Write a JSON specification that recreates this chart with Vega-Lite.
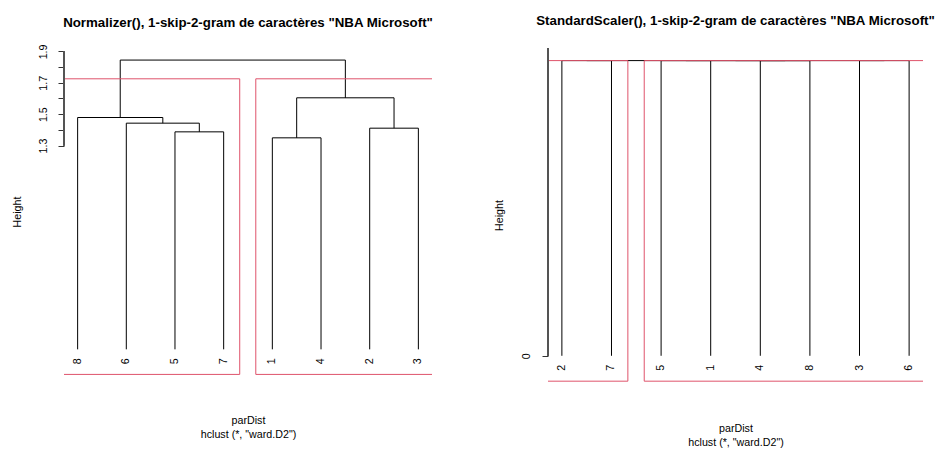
{
  "$schema": "https://vega.github.io/schema/vega-lite/v6.json",
  "background": "white",
  "padding": {"left": 11, "top": 14, "right": 0, "bottom": 0},
  "bounds": "flush",
  "spacing": 116,
  "config": {
    "view": {"stroke": null},
    "font": "Liberation Sans",
    "axis": {"grid": false, "labelFont": "Liberation Sans", "titleFont": "Liberation Sans", "labelColor": "black", "titleColor": "black", "tickColor": "#333", "titleFontWeight": "normal"}
  },
  "datasets": {
    "leftMerges": [
      {"merge": "A", "xl": 3, "xr": 4, "hl": 0, "hr": 0, "h": 1.3872},
      {"merge": "B", "xl": 2, "xr": 3.5, "hl": 0, "hr": 1.3872, "h": 1.4426},
      {"merge": "C", "xl": 1, "xr": 2.75, "hl": 0, "hr": 1.4426, "h": 1.4787},
      {"merge": "D", "xl": 5, "xr": 6, "hl": 0, "hr": 0, "h": 1.349},
      {"merge": "E", "xl": 7, "xr": 8, "hl": 0, "hr": 0, "h": 1.4106},
      {"merge": "F", "xl": 5.5, "xr": 7.5, "hl": 1.349, "hr": 1.4106, "h": 1.6043},
      {"merge": "G", "xl": 1.875, "xr": 6.5, "hl": 1.4787, "hr": 1.6043, "h": 1.845}
    ],
    "leftLeaves": [
      {"pos": 1, "label": "8"}, {"pos": 2, "label": "6"}, {"pos": 3, "label": "5"}, {"pos": 4, "label": "7"},
      {"pos": 5, "label": "1"}, {"pos": 6, "label": "4"}, {"pos": 7, "label": "2"}, {"pos": 8, "label": "3"}
    ],
    "leftClusters": [
      {"cluster": 1, "from": 0.66, "to": 4.33, "bottom": -0.16, "cut": 1.7255},
      {"cluster": 2, "from": 4.66, "to": 8.33, "bottom": -0.16, "cut": 1.7255}
    ],
    "rightMerges": [
      {"merge": "P", "xl": 1, "xr": 2, "hl": 0, "hr": 0, "h": 1},
      {"merge": "Q", "xl": 3, "xr": 4, "hl": 0, "hr": 0, "h": 1},
      {"merge": "R", "xl": 5, "xr": 6, "hl": 0, "hr": 0, "h": 1},
      {"merge": "S", "xl": 7, "xr": 8, "hl": 0, "hr": 0, "h": 1},
      {"merge": "T", "xl": 3.5, "xr": 5.5, "hl": 1, "hr": 1, "h": 1},
      {"merge": "U", "xl": 4.5, "xr": 7.5, "hl": 1, "hr": 1, "h": 1},
      {"merge": "V", "xl": 1.5, "xr": 6, "hl": 1, "hr": 1, "h": 1}
    ],
    "rightLeaves": [
      {"pos": 1, "label": "2"}, {"pos": 2, "label": "7"}, {"pos": 3, "label": "5"}, {"pos": 4, "label": "1"},
      {"pos": 5, "label": "4"}, {"pos": 6, "label": "8"}, {"pos": 7, "label": "3"}, {"pos": 8, "label": "6"}
    ],
    "rightClusters": [
      {"cluster": 1, "from": 0.66, "to": 2.33, "bottom": -0.086, "cut": 1},
      {"cluster": 2, "from": 2.66, "to": 8.33, "bottom": -0.086, "cut": 1}
    ]
  },
  "hconcat": [
    {
      "width": 368,
      "height": 327,
      "title": {"text": "Normalizer(), 1-skip-2-gram de caractères \"NBA Microsoft\"", "fontSize": 13.3, "fontWeight": "bold", "font": "Liberation Sans", "color": "black", "anchor": "middle", "frame": "group", "baseline": "alphabetic", "offset": 4},
      "encoding": {
        "x": {"type": "quantitative", "scale": {"domain": [0.72, 8.28], "nice": false, "zero": false},
              "axis": {"labels": false, "ticks": false, "domain": false, "title": ["parDist", "hclust (*, \"ward.D2\")"], "titleFontSize": 10.7, "titlePadding": 40, "titleLineHeight": 14.5}},
        "y": {"type": "quantitative", "scale": {"domain": [-0.1637, 1.922], "nice": false, "zero": false},
              "axis": {"values": [1.3, 1.4, 1.5, 1.6, 1.7, 1.8, 1.9], "format": ".1f", "labelExpr": "indexof(['1.3','1.5','1.7','1.9'], datum.label) >= 0 ? datum.label : ''", "domain": false, "tickSize": 6, "labelAngle": 270, "labelAlign": "center", "labelBaseline": "alphabetic", "labelPadding": 11.5, "labelFontSize": 10.7, "title": "Height", "titleFontSize": 10.7, "titlePadding": 15.5}}
      },
      "layer": [
        {
          "data": {"name": "leftMerges"},
          "mark": {"type": "rule", "color": "black", "strokeWidth": 1},
          "encoding": {"x": {"field": "xl"}, "x2": {"field": "xr"}, "y": {"field": "h"}}
        },
        {
          "data": {"name": "leftMerges"},
          "mark": {"type": "rule", "color": "black", "strokeWidth": 1},
          "encoding": {"x": {"field": "xl"}, "y": {"field": "hl"}, "y2": {"field": "h"}}
        },
        {
          "data": {"name": "leftMerges"},
          "mark": {"type": "rule", "color": "black", "strokeWidth": 1},
          "encoding": {"x": {"field": "xr"}, "y": {"field": "hr"}, "y2": {"field": "h"}}
        },
        {
          "data": {"name": "leftClusters"},
          "mark": {"type": "rect", "fill": null, "fillOpacity": 0, "stroke": "#DF536B", "strokeWidth": 1, "clip": true},
          "encoding": {"x": {"field": "from"}, "x2": {"field": "to"}, "y": {"field": "bottom"}, "y2": {"field": "cut"}}
        },
        {
          "data": {"name": "leftLeaves"},
          "mark": {"type": "text", "angle": 270, "align": "right", "baseline": "middle", "dx": -9, "fontSize": 10.7, "font": "Liberation Sans", "color": "black"},
          "encoding": {"x": {"field": "pos"}, "y": {"datum": 0}, "text": {"field": "label"}}
        },
        {
          "data": {"name": "leftLeaves"},
          "mark": {"type": "rule", "color": "#555", "strokeWidth": 1},
          "encoding": {"x": {"datum": 0.72}, "y": {"datum": 1.3}, "y2": {"datum": 1.9}}
        }
      ]
    },
    {
      "width": 375,
      "height": 334,
      "title": {"text": "StandardScaler(), 1-skip-2-gram de caractères \"NBA Microsoft\"", "fontSize": 13.3, "fontWeight": "bold", "font": "Liberation Sans", "color": "black", "anchor": "middle", "frame": "group", "baseline": "alphabetic", "offset": 9},
      "encoding": {
        "x": {"type": "quantitative", "scale": {"domain": [0.72, 8.28], "nice": false, "zero": false},
              "axis": {"labels": false, "ticks": false, "domain": false, "title": ["parDist", "hclust (*, \"ward.D2\")"], "titleFontSize": 10.7, "titlePadding": 41, "titleLineHeight": 14.5}},
        "y": {"type": "quantitative", "scale": {"domain": [-0.0888, 1.0427], "nice": false, "zero": false},
              "axis": {"values": [0], "format": "d", "domain": false, "tickSize": 6, "labelAngle": 270, "labelAlign": "center", "labelBaseline": "alphabetic", "labelPadding": 12.5, "labelFontSize": 10.7, "title": "Height", "titleFontSize": 10.7, "titlePadding": 16.5}}
      },
      "layer": [
        {
          "data": {"name": "rightMerges"},
          "mark": {"type": "rule", "color": "black", "strokeWidth": 1},
          "encoding": {"x": {"field": "xl"}, "x2": {"field": "xr"}, "y": {"field": "h"}}
        },
        {
          "data": {"name": "rightMerges"},
          "mark": {"type": "rule", "color": "black", "strokeWidth": 1},
          "encoding": {"x": {"field": "xl"}, "y": {"field": "hl"}, "y2": {"field": "h"}}
        },
        {
          "data": {"name": "rightMerges"},
          "mark": {"type": "rule", "color": "black", "strokeWidth": 1},
          "encoding": {"x": {"field": "xr"}, "y": {"field": "hr"}, "y2": {"field": "h"}}
        },
        {
          "data": {"name": "rightClusters"},
          "mark": {"type": "rect", "fill": null, "fillOpacity": 0, "stroke": "#DF536B", "strokeWidth": 1, "clip": true},
          "encoding": {"x": {"field": "from"}, "x2": {"field": "to"}, "y": {"field": "bottom"}, "y2": {"field": "cut"}}
        },
        {
          "data": {"name": "rightLeaves"},
          "mark": {"type": "text", "angle": 270, "align": "right", "baseline": "middle", "dx": -9, "fontSize": 10.7, "font": "Liberation Sans", "color": "black"},
          "encoding": {"x": {"field": "pos"}, "y": {"datum": 0}, "text": {"field": "label"}}
        },
        {
          "data": {"name": "rightLeaves"},
          "mark": {"type": "rule", "color": "#555", "strokeWidth": 1},
          "encoding": {"x": {"datum": 0.72}, "y": {"datum": 0}, "y2": {"datum": 1.0427}}
        }
      ]
    }
  ]
}
